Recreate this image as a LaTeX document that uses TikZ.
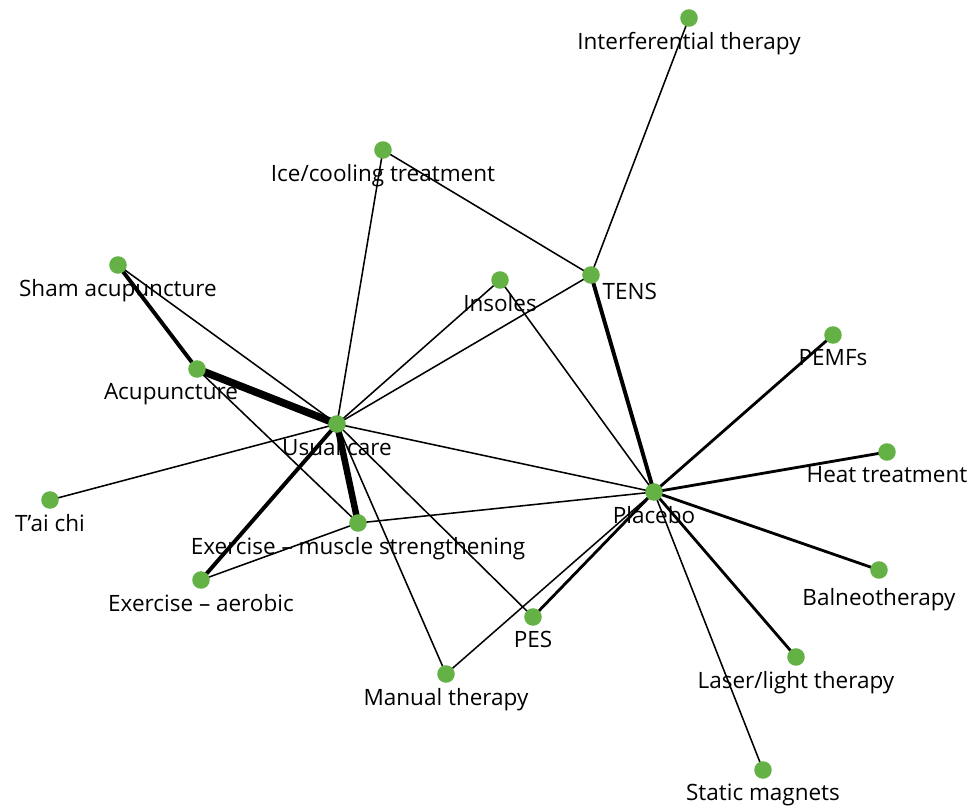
\documentclass[tikz,border=0pt]{standalone}
\usepackage{fontspec}
\setmainfont{Open Sans}
\definecolor{dotgreen}{RGB}{100,178,70}
\begin{document}
\begin{tikzpicture}[x=0.025cm,y=-0.025cm,line join=round,line cap=round,
		dot/.style={circle,fill=dotgreen,inner sep=0pt,minimum size=12.5pt,label distance=-1.5pt},
		every label/.style={font=\fontsize{16}{18}\selectfont},
		thin edge/.style={line width=1.1pt},
		mid edge/.style={line width=2pt},
		fat edge/.style={line width=2.8pt},
		huge edge/.style={line width=4.6pt}]
		\useasboundingbox (0,0) rectangle (976,807);
		% nodes
		\coordinate (interf) at (689,18);
		\coordinate (ice) at (383,150);
		\coordinate (sham) at (118,265);
		\coordinate (insoles) at (500,280);
		\coordinate (tens) at (591,275);
		\coordinate (pemf) at (833,335);
		\coordinate (acu) at (197,369);
		\coordinate (usual) at (337,424);
		\coordinate (heat) at (887,452);
		\coordinate (placebo) at (654,492);
		\coordinate (taichi) at (50,500);
		\coordinate (exmus) at (358,523);
		\coordinate (exaer) at (201,580);
		\coordinate (balneo) at (879,570);
		\coordinate (pes) at (533,617);
		\coordinate (laser) at (796,657);
		\coordinate (manual) at (446,674);
		\coordinate (magnets) at (763,770);
		% edges
		\draw[thin edge] (interf) -- (tens);
		\draw[thin edge] (ice) -- (tens);
		\draw[thin edge] (ice) -- (usual);
		\draw[thin edge] (sham) -- (usual);
		\draw[thin edge] (acu) -- (exmus);
		\draw[thin edge] (insoles) -- (usual);
		\draw[thin edge] (insoles) -- (placebo);
		\draw[thin edge] (tens) -- (usual);
		\draw[thin edge] (usual) -- (taichi);
		\draw[thin edge] (usual) -- (placebo);
		\draw[thin edge] (usual) -- (pes);
		\draw[thin edge] (usual) -- (manual);
		\draw[thin edge] (exmus) -- (exaer);
		\draw[thin edge] (exmus) -- (placebo);
		\draw[thin edge] (placebo) -- (magnets);
		\draw[thin edge] (placebo) -- (manual);
		\draw[mid edge] (placebo) -- (pemf);
		\draw[mid edge] (placebo) -- (heat);
		\draw[mid edge] (placebo) -- (balneo);
		\draw[mid edge] (placebo) -- (laser);
		\draw[mid edge] (placebo) -- (pes);
		\draw[fat edge] (tens) -- (placebo);
		\draw[fat edge] (usual) -- (exaer);
		\draw[fat edge] (sham) -- (acu);
		\draw[huge edge] (usual) -- (exmus);
		\draw[line width=5.4pt] (acu) -- (usual);
		% dots and labels
		\node[dot,label=below:Interferential therapy] at (interf) {};
		\node[dot,label=below:Ice/cooling treatment] at (ice) {};
		\node[dot,label=below:Sham acupuncture] at (sham) {};
		\node[dot,label=below:Insoles] at (insoles) {};
		\node[dot,label={[xshift=0.97cm,yshift=0.15cm]below:TENS}] at (tens) {};
		\node[dot,label=below:PEMFs] at (pemf) {};
		\node[dot,label={[xshift=-0.65cm]below:Acupuncture}] at (acu) {};
		\node[dot,label=below:Usual care] at (usual) {};
		\node[dot,label=below:Heat treatment] at (heat) {};
		\node[dot,label=below:Placebo] at (placebo) {};
		\node[dot,label=below:T’ai chi] at (taichi) {};
		\node[dot,label=below:Exercise – muscle strengthening] at (exmus) {};
		\node[dot,label=below:Exercise – aerobic] at (exaer) {};
		\node[dot,label={[yshift=-0.12cm]below:Balneotherapy}] at (balneo) {};
		\node[dot,label=below:PES] at (pes) {};
		\node[dot,label=below:Laser/light therapy] at (laser) {};
		\node[dot,label=below:Manual therapy] at (manual) {};
		\node[dot,label=below:Static magnets] at (magnets) {};
\end{tikzpicture}
\end{document}
